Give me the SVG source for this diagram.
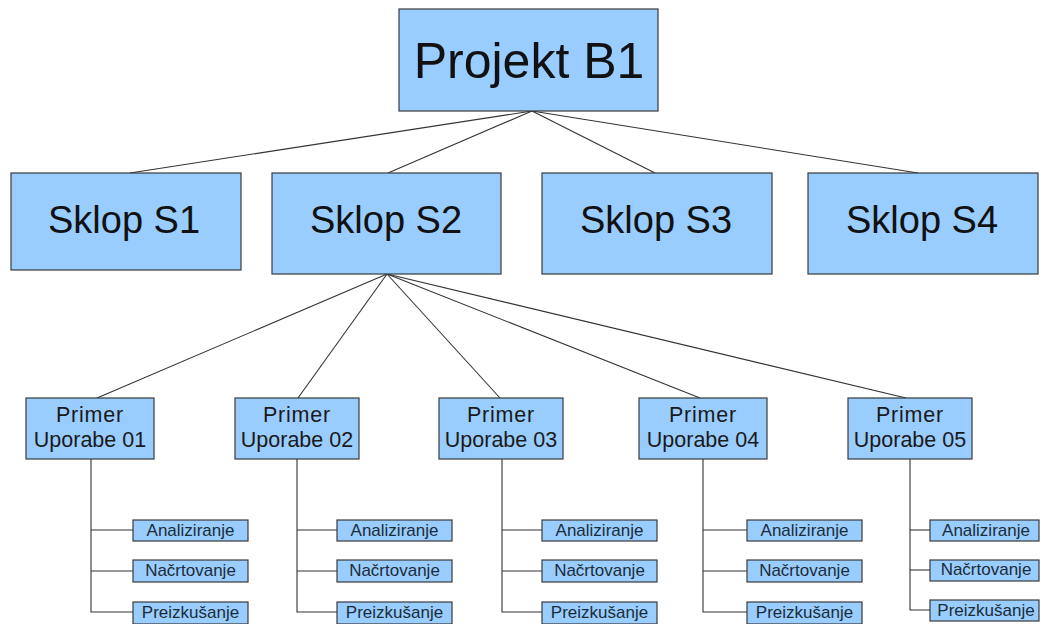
<svg xmlns="http://www.w3.org/2000/svg" width="1041" height="624" viewBox="0 0 1041 624">
  <style>
    .box { fill: #99ccff; stroke: #3a3a3a; stroke-width: 1.2; }
    .lbl { font-family: "Liberation Sans", Arial, sans-serif; fill: #111; text-anchor: middle; }
    .top { font-size: 50px; }
    .mid { font-size: 38px; }
    .uc { font-size: 21.5px; fill: #1a1a1a; }
    .uc1 { letter-spacing: 0.8px; }
    .task { font-size: 17px; fill: #1c2c36; }
    .conn line, .conn polyline { stroke: #333; stroke-width: 1.1; fill: none; }
  </style>
  <rect width="1041" height="624" fill="#ffffff"/>

  <!-- connectors -->
  <g id="connectors" class="conn">
    <line x1="532" y1="111" x2="130" y2="173"/>
    <line x1="532" y1="111" x2="388" y2="173"/>
    <line x1="532" y1="111" x2="655" y2="173"/>
    <line x1="532" y1="111" x2="918" y2="173"/>

    <line x1="387" y1="274" x2="97" y2="398"/>
    <line x1="387" y1="274" x2="298" y2="398"/>
    <line x1="387" y1="274" x2="500" y2="398"/>
    <line x1="387" y1="274" x2="700" y2="398"/>
    <line x1="387" y1="274" x2="906" y2="398"/>

    <polyline points="91,459 91,612 133,612"/>
    <line x1="91" y1="530" x2="133" y2="530"/>
    <line x1="91" y1="571" x2="133" y2="571"/>

    <polyline points="297,459 297,612 337,612"/>
    <line x1="297" y1="530" x2="337" y2="530"/>
    <line x1="297" y1="571" x2="337" y2="571"/>

    <polyline points="502,459 502,612 542,612"/>
    <line x1="502" y1="530" x2="542" y2="530"/>
    <line x1="502" y1="571" x2="542" y2="571"/>

    <polyline points="703,459 703,612 747,612"/>
    <line x1="703" y1="530" x2="747" y2="530"/>
    <line x1="703" y1="571" x2="747" y2="571"/>

    <polyline points="910,459 910,610 930,610"/>
    <line x1="910" y1="530" x2="930" y2="530"/>
    <line x1="910" y1="570" x2="930" y2="570"/>
  </g>

  <!-- root -->
  <g id="projekt-b1">
    <rect class="box" x="399" y="9" width="259" height="102"/>
    <text class="lbl top" x="529" y="78">Projekt B1</text>
  </g>

  <!-- assemblies -->
  <g id="sklop-s1">
    <rect class="box" x="11" y="173" width="230" height="97"/>
    <text class="lbl mid" x="124" y="233">Sklop S1</text>
  </g>
  <g id="sklop-s2">
    <rect class="box" x="272" y="173" width="229" height="101"/>
    <text class="lbl mid" x="386" y="233">Sklop S2</text>
  </g>
  <g id="sklop-s3">
    <rect class="box" x="542" y="173" width="230" height="101"/>
    <text class="lbl mid" x="656" y="233">Sklop S3</text>
  </g>
  <g id="sklop-s4">
    <rect class="box" x="808" y="173" width="230" height="101"/>
    <text class="lbl mid" x="922" y="233">Sklop S4</text>
  </g>

  <!-- use cases -->
  <g id="uc-01">
    <rect class="box" x="26" y="398" width="128" height="61"/>
    <text class="lbl uc uc1" x="90" y="422">Primer</text>
    <text class="lbl uc" x="90" y="447">Uporabe 01</text>
  </g>
  <g id="uc-02">
    <rect class="box" x="235" y="398" width="124" height="61"/>
    <text class="lbl uc uc1" x="297" y="422">Primer</text>
    <text class="lbl uc" x="297" y="447">Uporabe 02</text>
  </g>
  <g id="uc-03">
    <rect class="box" x="439" y="398" width="124" height="61"/>
    <text class="lbl uc uc1" x="501" y="422">Primer</text>
    <text class="lbl uc" x="501" y="447">Uporabe 03</text>
  </g>
  <g id="uc-04">
    <rect class="box" x="639" y="398" width="128" height="61"/>
    <text class="lbl uc uc1" x="703" y="422">Primer</text>
    <text class="lbl uc" x="703" y="447">Uporabe 04</text>
  </g>
  <g id="uc-05">
    <rect class="box" x="848" y="398" width="124" height="61"/>
    <text class="lbl uc uc1" x="910" y="422">Primer</text>
    <text class="lbl uc" x="910" y="447">Uporabe 05</text>
  </g>

  <!-- tasks, column 1 -->
  <g id="uc-01-analiziranje">
    <rect class="box" x="133" y="520" width="115" height="21"/>
    <text class="lbl task" x="190.5" y="536">Analiziranje</text>
  </g>
  <g id="uc-01-nacrtovanje">
    <rect class="box" x="133" y="560" width="115" height="22"/>
    <text class="lbl task" x="190.5" y="576">Načrtovanje</text>
  </g>
  <g id="uc-01-preizkusanje">
    <rect class="box" x="133" y="602" width="115" height="22"/>
    <text class="lbl task" x="190.5" y="618">Preizkušanje</text>
  </g>

  <!-- tasks, column 2 -->
  <g id="uc-02-analiziranje">
    <rect class="box" x="337" y="520" width="115" height="21"/>
    <text class="lbl task" x="394.5" y="536">Analiziranje</text>
  </g>
  <g id="uc-02-nacrtovanje">
    <rect class="box" x="337" y="560" width="115" height="22"/>
    <text class="lbl task" x="394.5" y="576">Načrtovanje</text>
  </g>
  <g id="uc-02-preizkusanje">
    <rect class="box" x="337" y="602" width="115" height="22"/>
    <text class="lbl task" x="394.5" y="618">Preizkušanje</text>
  </g>

  <!-- tasks, column 3 -->
  <g id="uc-03-analiziranje">
    <rect class="box" x="542" y="520" width="115" height="21"/>
    <text class="lbl task" x="599.5" y="536">Analiziranje</text>
  </g>
  <g id="uc-03-nacrtovanje">
    <rect class="box" x="542" y="560" width="115" height="22"/>
    <text class="lbl task" x="599.5" y="576">Načrtovanje</text>
  </g>
  <g id="uc-03-preizkusanje">
    <rect class="box" x="542" y="602" width="115" height="22"/>
    <text class="lbl task" x="599.5" y="618">Preizkušanje</text>
  </g>

  <!-- tasks, column 4 -->
  <g id="uc-04-analiziranje">
    <rect class="box" x="747" y="520" width="115" height="21"/>
    <text class="lbl task" x="804.5" y="536">Analiziranje</text>
  </g>
  <g id="uc-04-nacrtovanje">
    <rect class="box" x="747" y="560" width="115" height="22"/>
    <text class="lbl task" x="804.5" y="576">Načrtovanje</text>
  </g>
  <g id="uc-04-preizkusanje">
    <rect class="box" x="747" y="602" width="115" height="22"/>
    <text class="lbl task" x="804.5" y="618">Preizkušanje</text>
  </g>

  <!-- tasks, column 5 -->
  <g id="uc-05-analiziranje">
    <rect class="box" x="930" y="520" width="109" height="21"/>
    <text class="lbl task" x="986" y="536">Analiziranje</text>
  </g>
  <g id="uc-05-nacrtovanje">
    <rect class="box" x="930" y="560" width="109" height="21"/>
    <text class="lbl task" x="986" y="575">Načrtovanje</text>
  </g>
  <g id="uc-05-preizkusanje">
    <rect class="box" x="930" y="600" width="109" height="21"/>
    <text class="lbl task" x="986" y="616">Preizkušanje</text>
  </g>
</svg>
